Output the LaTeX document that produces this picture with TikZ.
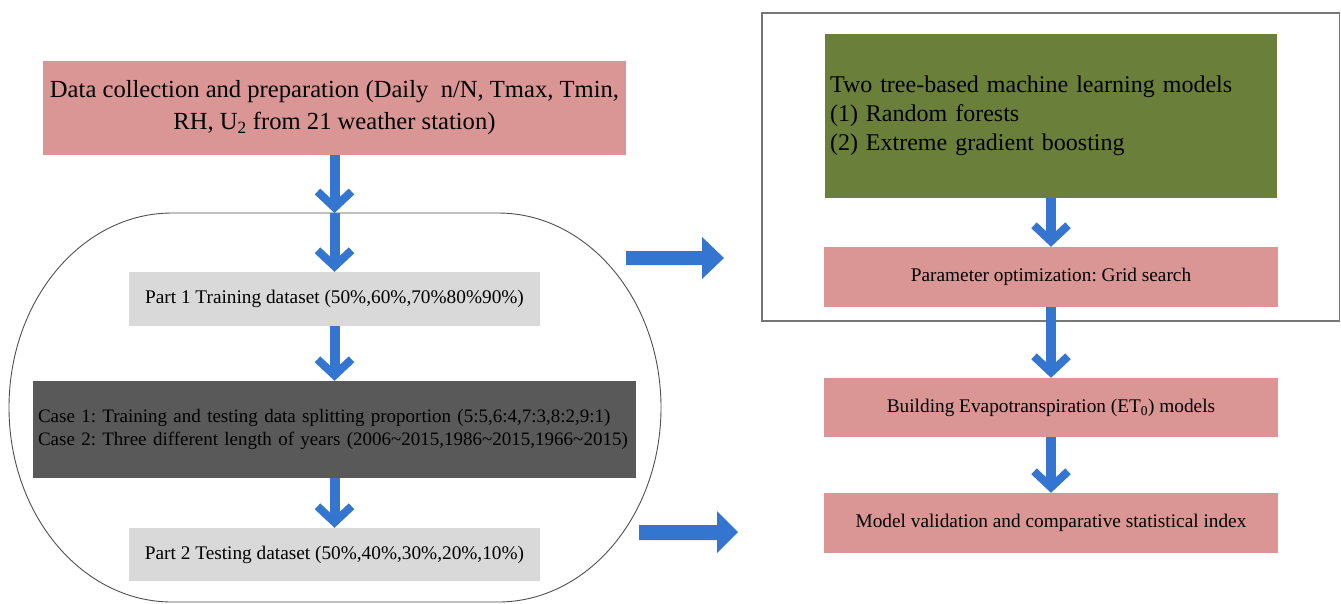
\documentclass[tikz,border=0pt]{standalone}
\usepackage{fontspec}
\setmainfont{Liberation Serif}
\usetikzlibrary{arrows.meta}
\definecolor{pinkc}{RGB}{217,150,148}
\definecolor{lgrayc}{RGB}{217,217,217}
\definecolor{dgrayc}{RGB}{89,89,89}
\definecolor{greenc}{RGB}{106,128,58}
\definecolor{bluec}{RGB}{51,117,207}
\definecolor{framec}{RGB}{118,118,118}
\definecolor{ovalc}{RGB}{80,80,80}
\frenchspacing
\hfuzz=50pt
\begin{document}
\begin{tikzpicture}[x=1pt,y=1pt,
  basebox/.style={inner sep=0pt, draw=none, font=\fontsize{19.3}{23}\selectfont},
  pinkbox/.style={basebox, fill=pinkc, align=center, minimum width=454pt, minimum height=60pt},
  graybox/.style={basebox, fill=lgrayc, align=center, minimum width=411pt, minimum height=54pt},
  flowarrow/.style={draw=bluec, line width=10pt, -{Straight Barb[length=16pt,width=34pt,line width=8pt]}},
  blockarrow/.style={fill=bluec, draw=none}
]
\useasboundingbox (0,0) rectangle (1341,-603);
\fill[white] (0,0) rectangle (1341,-603);

% left part
\draw[ovalc, line width=0.9pt] (172,-213) -- (498,-213)
  arc[start angle=90,end angle=0,x radius=163pt,y radius=194.5pt]
  arc[start angle=0,end angle=-90,x radius=163pt,y radius=194.5pt]
  -- (172,-602)
  arc[start angle=270,end angle=180,x radius=163pt,y radius=194.5pt]
  arc[start angle=180,end angle=90,x radius=163pt,y radius=194.5pt] -- cycle;

\node[basebox, fill=pinkc, align=center, minimum width=583pt, minimum height=94pt,
  font=\fontsize{24.6}{32}\selectfont] (data) at (334.5,-108)
  {Data collection and preparation (Daily~ n/N, Tmax, Tmin,\\RH, U\textsubscript{2} from 21 weather station)};
\coordinate (ctop) at (334.5,-213);
\node[graybox] (part1) at (334.5,-299) {Part 1 Training dataset (50\%,60\%,70\%80\%90\%)};
\node[basebox, fill=dgrayc, align=left, text width=593pt, inner xsep=5pt, minimum height=97pt,
  font=\fontsize{19}{23}\selectfont] (cases) at (334.5,-429.5)
  {\mbox{Case 1: Training and testing data splitting proportion (5:5,6:4,7:3,8:2,9:1)}\\
   \mbox{Case 2: Three different length of years (2006\textasciitilde2015,1986\textasciitilde2015,1966\textasciitilde2015)}};
\node[graybox, minimum height=53pt] (part2) at (334.5,-554.5) {Part 2 Testing dataset (50\%,40\%,30\%,20\%,10\%)};

\draw[flowarrow] (data.south) -- (ctop);
\draw[flowarrow] (ctop) -- (part1.north);
\draw[flowarrow] (part1.south) -- (cases.north);
\draw[flowarrow] (cases.south) -- (part2.north);

% block arrows
\fill[blockarrow] (626,-251) -- (702,-251) -- (702,-237) -- (724,-258) -- (702,-279) -- (702,-265) -- (626,-265) -- cycle;
\fill[blockarrow] (639,-525) -- (717,-525) -- (717,-511) -- (738,-532) -- (717,-553) -- (717,-540) -- (639,-540) -- cycle;

% right part
\draw[framec, line width=1.3pt] (762,-13) rectangle (1339.3,-321);
\node[basebox, fill=greenc, align=left, text width=442pt, inner xsep=5pt, minimum height=164pt,
  font=\fontsize{24}{29}\selectfont] (models) at (1051,-116)
  {Two tree-based machine learning models\\(1) Random forests\\(2) Extreme gradient boosting};
\node[pinkbox] (param) at (1051,-277) {Parameter optimization: Grid search};
\node[pinkbox, minimum height=59pt] (build) at (1051,-407.5) {Building Evapotranspiration (ET\textsubscript{0}) models};
\node[pinkbox] (valid) at (1051,-523) {Model validation and comparative statistical index};

\draw[flowarrow] (models.south) -- (param.north);
\draw[flowarrow] (param.south) -- (build.north);
\draw[flowarrow] (build.south) -- (valid.north);
\end{tikzpicture}
\end{document}
